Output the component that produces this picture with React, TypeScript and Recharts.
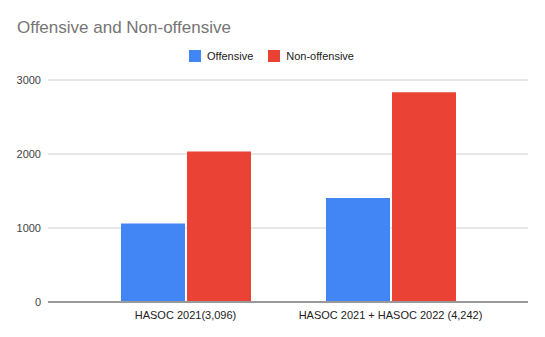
import React from "react";
import { Bar, BarChart, CartesianGrid, XAxis, YAxis } from "recharts";

document.body.style.margin = "0";

const categories = ["HASOC 2021(3,096)", "HASOC 2021 + HASOC 2022 (4,242)"];
const offensive = [1062, 1406];
const nonOffensive = [2034, 2836];
const yTicks = [0, 1000, 2000, 3000];

const series = [
  { key: "Offensive", color: "#4285F4" },
  { key: "Non-offensive", color: "#EA4335" },
];

const data = categories.map((name, i) => ({
  name,
  Offensive: offensive[i],
  "Non-offensive": nonOffensive[i],
}));

const FONT = "Arial, 'Liberation Sans', sans-serif";

export default function App() {
  return (
    <div style={{ position: "relative", width: 545, height: 337, background: "#fff" }}>
      <div
        style={{
          position: "absolute",
          left: 17,
          top: 19,
          fontFamily: FONT,
          fontSize: 17,
          lineHeight: "17px",
          color: "#757575",
          whiteSpace: "nowrap",
        }}
      >
        Offensive and Non-offensive
      </div>
      <div
        style={{
          position: "absolute",
          left: 189,
          top: 50,
          display: "flex",
          alignItems: "center",
          fontFamily: FONT,
          fontSize: 11,
          color: "#222",
          lineHeight: "12px",
          zIndex: 1,
        }}
      >
        {series.map((s) => (
          <div key={s.key} style={{ display: "flex", alignItems: "center", marginRight: 15 }}>
            <span style={{ width: 12, height: 12, background: s.color, display: "inline-block", marginRight: 6 }} />
            <span>{s.key}</span>
          </div>
        ))}
      </div>
      <BarChart width={545} height={337} data={data} margin={{ top: 80, right: 17, bottom: 0, left: 0 }} barSize={64} barGap={2}>
        <CartesianGrid vertical={false} stroke="#d0d0d0" />
        <XAxis
          dataKey="name"
          height={35}
          padding={{ left: 35, right: 35 }}
          interval={0}
          tickLine={false}
          tickSize={0}
          tickMargin={9}
          axisLine={{ stroke: "#999", strokeWidth: 2 }}
          tick={{ fontSize: 11, fill: "#222", fontFamily: FONT }}
        />
        <YAxis
          width={48}
          domain={[0, 3000]}
          ticks={yTicks}
          axisLine={false}
          tickLine={false}
          tickSize={0}
          tickMargin={7}
          tick={{ fontSize: 11, fill: "#444", fontFamily: FONT }}
        />
        {series.map((s) => (
          <Bar key={s.key} dataKey={s.key} fill={s.color} isAnimationActive={false} />
        ))}
      </BarChart>
    </div>
  );
}
